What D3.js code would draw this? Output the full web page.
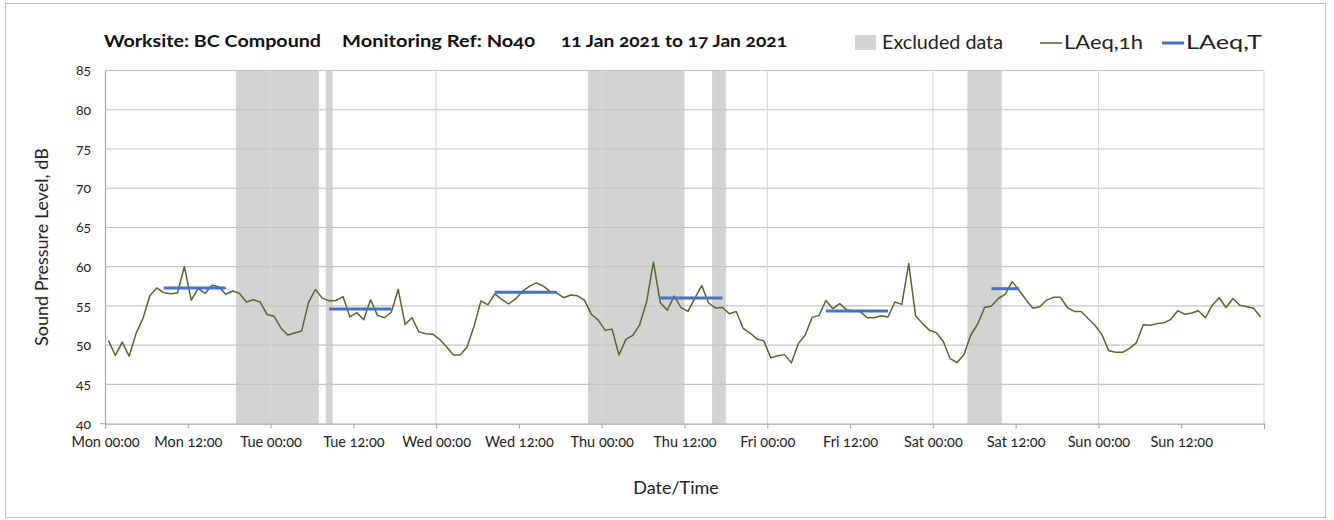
<!DOCTYPE html>
<html>
<head>
<meta charset="utf-8">
<script src="https://cdn.jsdelivr.net/npm/d3@7"></script>
<style>
  html, body { margin: 0; padding: 0; background: #fff; }
  svg { display: block; font-family: "Lato", "Open Sans", sans-serif; font-feature-settings: "onum" 1; font-variant-numeric: oldstyle-nums; }
</style>
</head>
<body>
<svg id="chart" width="1334" height="520"></svg>
<script>
// ---- data ----
const tickHours = d3.range(0, 169, 12);
const tickLabels = ["Mon 00:00","Mon 12:00","Tue 00:00","Tue 12:00","Wed 00:00","Wed 12:00","Thu 00:00","Thu 12:00","Fri 00:00","Fri 12:00","Sat 00:00","Sat 12:00","Sun 00:00","Sun 12:00",""];
const yTicks = [40,45,50,55,60,65,70,75,80,85];

// hourly LAeq,1h values (168 hours, Mon 00:00 .. Sun 23:00)
const laeq1h = [
  50.6, 48.7, 50.4, 48.6, 51.5, 53.4, 56.3, 57.3, 56.7, 56.55, 56.65, 60.0, 55.75, 57.2, 56.6, 57.65, 57.45, 56.5, 56.9, 56.6, 55.5, 55.8, 55.5, 53.9, 53.7, 52.2, 51.3, 51.55,
  51.8, 55.45, 57.1, 56.0, 55.65, 55.7, 56.2, 53.6, 54.15, 53.25, 55.8, 53.8, 53.5, 54.2, 57.1, 52.65, 53.5, 51.7, 51.45, 51.4, 50.75, 49.8, 48.75, 48.75, 49.8, 52.45, 55.65, 55.15,
  56.55, 55.85, 55.25, 55.9, 56.85, 57.5, 57.95, 57.55, 56.85, 56.65, 56.05, 56.4, 56.3, 55.75, 53.95, 53.2, 51.9, 52.05, 48.75, 50.75, 51.25, 52.6, 55.5, 60.6, 55.4, 54.45, 56.25, 54.8,
  54.3, 56.0, 57.6, 55.35, 54.75, 54.8, 54.0, 54.3, 52.15, 51.55, 50.8, 50.55, 48.4, 48.65, 48.8, 47.75, 50.2, 51.3, 53.55, 53.8, 55.7, 54.65, 55.3, 54.5, 54.4, 54.25, 53.5, 53.5,
  53.75, 53.6, 55.5, 55.2, 60.4, 53.75, 52.75, 51.9, 51.6, 50.5, 48.3, 47.8, 48.8, 51.3, 52.7, 54.8, 55.0, 55.95, 56.5, 58.1, 57.0, 55.8, 54.7, 54.9, 55.75, 56.1, 56.1, 54.8,
  54.3, 54.3, 53.4, 52.55, 51.35, 49.3, 49.1, 49.1, 49.6, 50.3, 52.6, 52.55, 52.75, 52.85, 53.3, 54.4, 53.95, 54.1, 54.4, 53.5, 55.1, 56.05, 54.8, 55.95, 55.1, 54.9, 54.7, 53.6
];

// excluded data periods (hours from Mon 00:00)
const excludedStart = [19, 32, 70, 88, 125];
const excludedEnd   = [31, 33, 84, 90, 130];

// LAeq,T periods (first and last hourly index) and levels
const periodStart = [8, 32, 56, 80, 104, 128];
const periodEnd   = [17, 41, 65, 89, 113, 132];
const periodLevel = [57.3, 54.6, 56.75, 56.0, 54.35, 57.2];

const titleParts = ["Worksite: BC Compound", "Monitoring Ref: No40", "11 Jan 2021 to 17 Jan 2021"];
const legendLabels = ["Excluded data", "LAeq,1h", "LAeq,T"];

// ---- drawing ----
(function draw() {
const svg = d3.select("#chart");
const pLeft = 105, pRight = 1264, pTop = 70.5, pBottom = 423.7;

const x = d3.scaleLinear().domain([0, 168]).range([pLeft, pRight]);
const y = d3.scaleLinear().domain([40, 85]).range([pBottom, pTop]);

const C_GREY = "#d3d3d3", C_LINE = "#4e6b2e", C_BLUE = "#4472c4";

// outer frame
svg.append("rect").attr("x", 5.5).attr("y", 3.5).attr("width", 1320).attr("height", 514)
  .attr("fill", "none").attr("stroke", "#bfbfbf").attr("stroke-width", 1);

// excluded areas
svg.append("g").selectAll("rect").data(excludedStart).join("rect")
  .attr("x", (d) => x(d))
  .attr("width", (d, i) => x(excludedEnd[i]) - x(d))
  .attr("y", y(85)).attr("height", y(40) - y(85))
  .attr("fill", C_GREY);

// horizontal gridlines
svg.append("g").selectAll("line").data(yTicks.filter(v => v > 40)).join("line")
  .attr("x1", pLeft).attr("x2", pRight)
  .attr("y1", d => y(d)).attr("y2", d => y(d))
  .attr("stroke", "#c4c4c4").attr("stroke-width", 1.2);

// vertical gridlines (daily)
svg.append("g").selectAll("line").data(d3.range(24, 169, 24)).join("line")
  .attr("x1", d => x(d)).attr("x2", d => x(d))
  .attr("y1", y(85)).attr("y2", y(40))
  .attr("stroke", "#d9d9d9").attr("stroke-width", 1.2);

// x axis
const xAxis = d3.axisBottom(x).tickValues(tickHours).tickSize(5).tickPadding(8)
  .tickFormat((d, i) => tickLabels[i]);
const gx = svg.append("g").attr("transform", `translate(0,${pBottom})`).call(xAxis);
gx.select(".domain").attr("stroke", "#a6a6a6").attr("stroke-width", 1.2);
gx.selectAll(".tick line").attr("stroke", "#a6a6a6");
gx.selectAll(".tick text").attr("font-size", 14.5).attr("fill", "#222").attr("font-family", "Lato");

// y axis
const yAxis = d3.axisLeft(y).tickValues(yTicks).tickSize(0).tickPadding(14);
const gy = svg.append("g").attr("transform", `translate(${pLeft},0)`).call(yAxis);
gy.select(".domain").attr("stroke", "#a6a6a6").attr("stroke-width", 1.2);
gy.selectAll(".tick text").attr("font-size", 14).attr("fill", "#222").attr("font-family", "Lato");
gy.append("line").attr("x1", -5).attr("x2", 0).attr("y1", y(40)).attr("y2", y(40)).attr("stroke", "#a6a6a6");

// LAeq,1h line
const line = d3.line().x((d, i) => x(i + 0.5)).y(d => y(d));
svg.append("path").datum(laeq1h).attr("d", line)
  .attr("fill", "none").attr("stroke", C_LINE).attr("stroke-width", 1.5).attr("stroke-linejoin", "round");

// LAeq,T segments
svg.append("g").selectAll("line").data(periodLevel).join("line")
  .attr("x1", (d, i) => x(periodStart[i] + 0.5))
  .attr("x2", (d, i) => x(periodEnd[i] + 0.5))
  .attr("y1", d => y(d)).attr("y2", d => y(d))
  .attr("stroke", C_BLUE).attr("stroke-width", 3);

// axis titles
svg.append("text").attr("x", 676).attr("y", 494).attr("text-anchor", "middle")
  .attr("font-size", 18).attr("fill", "#222").text("Date/Time");
svg.append("text").attr("transform", `translate(48,${(pTop + pBottom) / 2}) rotate(-90)`)
  .attr("text-anchor", "middle").attr("font-size", 18).attr("fill", "#222")
  .text("Sound Pressure Level, dB");

// title
const titleX = [104, 342, 561];
const titleW = [217, 193, 226];
svg.append("g").selectAll("text").data(titleParts).join("text")
  .attr("x", (d, i) => titleX[i]).attr("y", 47)
  .attr("font-size", 17).attr("font-weight", "bold").attr("fill", "#111")
  .attr("textLength", (d, i) => titleW[i]).attr("lengthAdjust", "spacingAndGlyphs")
  .text(d => d);

// legend
const lg = svg.append("g");
lg.append("rect").attr("x", 855).attr("y", 35).attr("width", 21).attr("height", 15).attr("fill", C_GREY);
lg.append("text").attr("x", 882).attr("y", 49).attr("font-size", 18.5).attr("fill", "#222")
  .attr("textLength", 121).attr("lengthAdjust", "spacingAndGlyphs").text(legendLabels[0]);
lg.append("line").attr("x1", 1040).attr("x2", 1062).attr("y1", 43).attr("y2", 43).attr("stroke", C_LINE).attr("stroke-width", 1.5);
lg.append("text").attr("x", 1064).attr("y", 49).attr("font-size", 18.5).attr("fill", "#222")
  .attr("textLength", 79).attr("lengthAdjust", "spacingAndGlyphs").text(legendLabels[1]);
lg.append("line").attr("x1", 1162).attr("x2", 1184).attr("y1", 43).attr("y2", 43).attr("stroke", C_BLUE).attr("stroke-width", 3);
lg.append("text").attr("x", 1186).attr("y", 49).attr("font-size", 18.5).attr("fill", "#222")
  .attr("textLength", 76).attr("lengthAdjust", "spacingAndGlyphs").text(legendLabels[2]);
})();
</script>
</body>
</html>
